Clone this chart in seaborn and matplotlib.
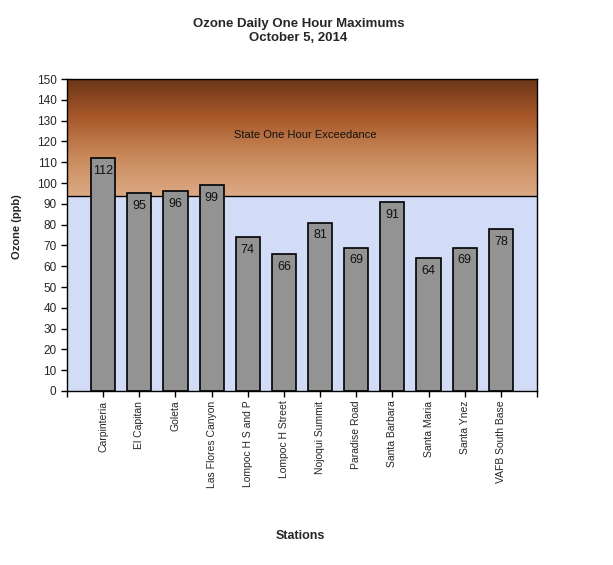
import numpy as np
import pandas as pd
import matplotlib
matplotlib.use("Agg")
import matplotlib.pyplot as plt
import seaborn as sns
from matplotlib.colors import LinearSegmentedColormap

stations = ["Carpinteria", "El Capitan", "Goleta", "Las Flores Canyon",
            "Lompoc H S and P", "Lompoc H Street", "Nojoqui Summit",
            "Paradise Road", "Santa Barbara", "Santa Maria", "Santa Ynez",
            "VAFB South Base"]
ozone = [112, 95, 96, 99, 74, 66, 81, 69, 91, 64, 69, 78]
threshold = 94
ymax = 150

df = pd.DataFrame({"station": stations, "ozone": ozone})

sns.set_style("white")
plt.rcParams["font.family"] = ["Liberation Sans", "DejaVu Sans"]

fig = plt.figure(figsize=(6.13, 5.65), dpi=100)
ax = fig.add_axes([0.1093, 0.308, 0.7667, 0.552])

# background: light blue below the standard, brown gradient above
ax.axhspan(0, threshold, color="#d2dcf6", zorder=0)
grad = LinearSegmentedColormap.from_list(
    "exc", ["#dcaa85", "#c98a5c", "#a9592a", "#6c3618"])
g = np.linspace(0, 1, 256).reshape(-1, 1)
ax.imshow(g, cmap=grad, aspect="auto", origin="lower",
          extent=(-1, 12, threshold, ymax), zorder=0.5)
ax.axhline(threshold, color="black", lw=1.0, zorder=1)

sns.barplot(data=df, x="station", y="ozone", color="#939393",
            edgecolor="black", linewidth=1.2, width=0.67, saturation=1,
            ax=ax, zorder=2)

for i, v in enumerate(ozone):
    ax.text(i, v - 6.2, str(v), ha="center", va="center", fontsize=9,
            color="#111111", zorder=3)

ax.text(0.506, 123, "State One Hour Exceedance", transform=ax.get_yaxis_transform(),
        ha="center", va="center", fontsize=8, color="#111111", zorder=3)

ax.set_xlim(-1, 12)
ax.set_ylim(0, ymax)
ax.set_yticks(range(0, 151, 10))
# ticks at each station plus the two plot edges
ax.set_xticks(range(-1, len(stations) + 1))
ax.set_xticklabels([""] + stations + [""])
ax.tick_params(axis="y", labelsize=8.5, length=4, width=1, color="black",
               direction="out", left=True)
ax.tick_params(axis="x", length=4, width=1, color="black",
               direction="out", bottom=True, pad=3,
               labelrotation=90, labelsize=7.5)
ax.set_axisbelow(False)
ax.xaxis.set_zorder(5)
for t in ax.xaxis.get_major_ticks():
    t.tick1line.set_visible(True)
    t.tick1line.set_zorder(6)
for s in ax.spines.values():
    s.set_color("black")
    s.set_linewidth(1.0)

ax.set_xlabel("Stations", fontsize=9, fontweight="bold", labelpad=0)
ax.xaxis.set_label_coords(0.497, -0.445)
ax.set_ylabel("Ozone (ppb)", fontsize=8, fontweight="bold")
ax.yaxis.set_label_coords(-0.095, 0.526)

fig.suptitle("Ozone Daily One Hour Maximums\nOctober 5, 2014", fontsize=9.5,
             fontweight="bold", x=0.487, y=0.968, linespacing=1.25)

fig.savefig("out.png", dpi=100)
